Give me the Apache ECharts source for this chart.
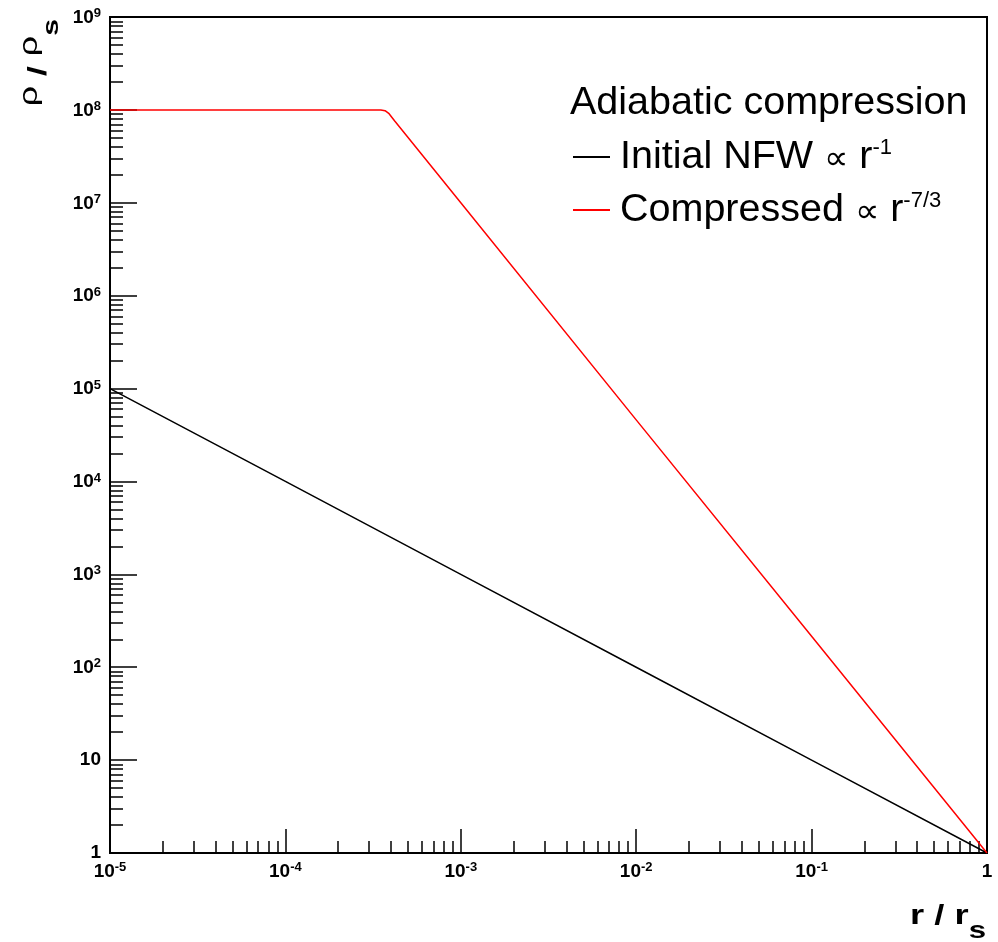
<!DOCTYPE html>
<html>
<head>
<meta charset="utf-8">
<script src="https://cdn.jsdelivr.net/npm/echarts@6/dist/echarts.min.js"></script>
<style>
  html, body { margin: 0; padding: 0; background: #fff; }
  #chart { width: 998px; height: 942px; }
</style>
</head>
<body>
<div id="chart"></div>
<script>
// Density profiles rho / rho_s against radius r / r_s
const nfwRadius = [1e-5, 1e-4, 1e-3, 1e-2, 1e-1, 1];
const nfwDensity = [1e5, 1e4, 1e3, 1e2, 10, 1];

const compressedRadius = [1e-5, 3.5e-4, 3.7e-4, 3.9e-4, 4.2e-4, 1e-3, 1e-2, 1e-1, 1];
const compressedDensity = [1e8, 1e8, 9.8e7, 9.1e7, 7.6e7, 1e7, 4.6e4, 215, 1];

// Axis decades (exponents) and minor tick multiples
const xDecades = [-5, -4, -3, -2, -1, 0];
const yDecades = [0, 1, 2, 3, 4, 5, 6, 7, 8, 9];
const minorMultiples = [2, 3, 4, 5, 6, 7, 8, 9];

const seriesNames = ['Initial NFW \u221D r-1', 'Compressed \u221D r-7/3'];

const pair = (xs, ys) => xs.map((x, i) => [x, ys[i]]);
const majorValues = decs => decs.map(e => Math.pow(10, e));
const minorValues = decs => {
  const out = [];
  decs.slice(0, -1).forEach(e => minorMultiples.forEach(m => out.push(m * Math.pow(10, e))));
  return out;
};

const FONT = '"Liberation Sans", Arial, Helvetica, sans-serif';

// tick label pieces: b = mantissa next to an exponent, n = plain number, e = exponent
const labelRich = {
  b: { fontSize: 19, fontWeight: 'bold', fontFamily: FONT, color: '#000', lineHeight: 20, padding: [6, 0, 0, 0], verticalAlign: 'bottom' },
  n: { fontSize: 19, fontWeight: 'bold', fontFamily: FONT, color: '#000', lineHeight: 20 },
  e: { fontSize: 13, fontWeight: 'bold', fontFamily: FONT, color: '#000', lineHeight: 13, verticalAlign: 'top' }
};
const expOf = v => Math.round(Math.log10(v));
const xLabel = v => { const e = expOf(v); return e === 0 ? '{b|1}' : '{b|10}{e|' + e + '}'; };
const yLabel = v => { const e = expOf(v); return e === 0 ? '{n|1}' : (e === 1 ? '{n|10}' : '{b|10}{e|' + e + '}'); };

const xMin = 1e-5, xMax = 1, yMin = 1, yMax = 1e9;

const chart = echarts.init(document.getElementById('chart'), null, { renderer: 'canvas' });

const legendRich = {
  t: { fontSize: 39.5, fontFamily: FONT, color: '#000', lineHeight: 40 },
  p: { fontSize: 34, fontFamily: '"DejaVu Sans", sans-serif', color: '#000', lineHeight: 40, padding: [6, 0, 0, 0] },
  e: { fontSize: 22, fontFamily: FONT, color: '#000', lineHeight: 22, verticalAlign: 'top' },
  g: { width: 5 }
};

chart.setOption({
  animation: false,
  backgroundColor: '#fff',
  grid: { left: 110, top: 17, right: 11, bottom: 89, show: true, borderColor: '#000', borderWidth: 2, backgroundColor: 'transparent' },
  title: {
    text: 'Adiabatic compression',
    left: 570, top: 84, padding: 0,
    textStyle: { fontSize: 39.5, fontWeight: 'normal', fontFamily: FONT, color: '#000', lineHeight: 38 }
  },
  legend: {
    orient: 'vertical',
    left: 573, top: 137, padding: 0,
    itemGap: 13,
    itemWidth: 37, itemHeight: 2,
    icon: 'rect',
    data: seriesNames,
    formatter: name => name === seriesNames[0]
      ? '{g|}{t|Initial NFW }{p|\u221D}{t| r}{e|-1}'
      : '{g|}{t|Compressed }{p|\u221D}{t| r}{e|-7/3}',
    textStyle: { rich: legendRich }
  },
  xAxis: [
    {
      type: 'log', min: xMin, max: xMax, position: 'bottom',
      axisLine: { show: true, onZero: false, lineStyle: { color: '#000', width: 2 } },
      axisTick: { show: true, inside: true, length: 24, customValues: majorValues(xDecades), lineStyle: { color: '#000', width: 1.5 } },
      axisLabel: { show: true, margin: 8, customValues: majorValues(xDecades), formatter: xLabel, rich: labelRich },
      splitLine: { show: false }
    },
    {
      type: 'log', min: xMin, max: xMax, position: 'bottom',
      axisLine: { show: false },
      axisTick: { show: true, inside: true, length: 12, customValues: minorValues(xDecades), lineStyle: { color: '#000', width: 1.5 } },
      axisLabel: { show: false },
      splitLine: { show: false }
    }
  ],
  yAxis: [
    {
      type: 'log', min: yMin, max: yMax, position: 'left',
      axisLine: { show: true, onZero: false, lineStyle: { color: '#000', width: 2 } },
      axisTick: { show: true, inside: true, length: 27, customValues: majorValues(yDecades), lineStyle: { color: '#000', width: 1.5 } },
      axisLabel: { show: true, margin: 9, customValues: majorValues(yDecades), formatter: yLabel, rich: labelRich },
      splitLine: { show: false }
    },
    {
      type: 'log', min: yMin, max: yMax, position: 'left',
      axisLine: { show: false },
      axisTick: { show: true, inside: true, length: 13, customValues: minorValues(yDecades), lineStyle: { color: '#000', width: 1.5 } },
      axisLabel: { show: false },
      splitLine: { show: false }
    }
  ],
  graphic: [
    {
      // y-axis title, reading upwards, ending at the top of the axis
      type: 'text', x: 38.5, y: 19, rotation: Math.PI / 2, scaleX: 1.375, scaleY: 1,
      style: {
        text: '{r|\u03C1}{sl| / }{r|\u03C1}{s|s}',
        align: 'right', verticalAlign: 'middle',
        rich: {
          r: { fontSize: 26, fontFamily: FONT, fill: '#000', lineHeight: 26, padding: [0, 0, 18, 0] },
          sl: { fontSize: 26, fontWeight: 'bold', fontFamily: FONT, fill: '#000', lineHeight: 48 },
          s: { fontSize: 22, fontWeight: 'bold', fontFamily: FONT, fill: '#000', lineHeight: 22, verticalAlign: 'bottom' }
        }
      }
    },
    {
      // x-axis title at the right end of the axis
      type: 'text', x: 986, y: 916, scaleX: 1.3, scaleY: 1,
      style: {
        text: '{b|r / r}{s|s}',
        align: 'right', verticalAlign: 'middle',
        rich: {
          b: { fontSize: 28, fontWeight: 'bold', fontFamily: FONT, fill: '#000', lineHeight: 55 },
          s: { fontSize: 24, fontWeight: 'bold', fontFamily: FONT, fill: '#000', lineHeight: 24, verticalAlign: 'bottom' }
        }
      }
    }
  ],
  series: [
    {
      name: seriesNames[0], type: 'line', xAxisIndex: 0, yAxisIndex: 0,
      data: pair(nfwRadius, nfwDensity), showSymbol: false, symbol: 'none',
      lineStyle: { color: '#000', width: 1.5 }, itemStyle: { color: '#000' }
    },
    {
      name: seriesNames[1], type: 'line', xAxisIndex: 0, yAxisIndex: 0,
      data: pair(compressedRadius, compressedDensity), showSymbol: false, symbol: 'none',
      lineStyle: { color: '#ff0000', width: 1.5 }, itemStyle: { color: '#ff0000' }
    }
  ]
});
</script>
</body>
</html>
